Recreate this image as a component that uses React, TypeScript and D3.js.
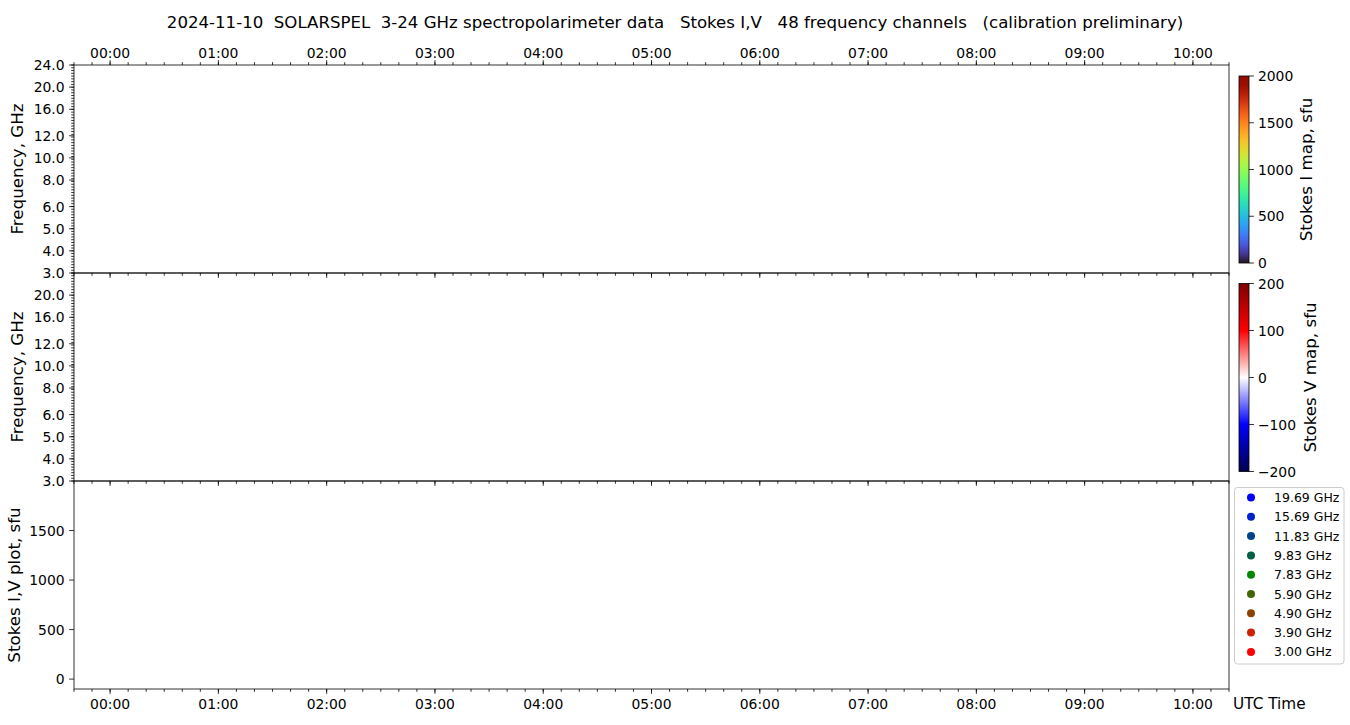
import React from "react";
import * as d3 from "d3";

const titleText =
  "2024-11-10  SOLARSPEL  3-24 GHz spectropolarimeter data   Stokes I,V   48 frequency channels   (calibration preliminary)";
const timeStart = new Date(Date.UTC(2024, 10, 9, 23, 40));
const timeEnd = new Date(Date.UTC(2024, 10, 10, 10, 20));
const freqTickLabels = ["3.0", "4.0", "5.0", "6.0", "8.0", "10.0", "12.0", "16.0", "20.0", "24.0"];
const freqTickChannels = [0, 5, 10, 15, 21, 26, 31, 37, 42, 47];
const freqMinorPerAxis = 75;
const stokesTicks = [0, 500, 1000, 1500];
const stokesDomain = [-100, 2000];
const iBarTicks = [0, 500, 1000, 1500, 2000];
const iBarDomain = [0, 2000];
const vBarTicks = [-200, -100, 0, 100, 200];
const vBarDomain = [-200, 200];
const seismicStops = ["#00004d", "#0000ff", "#ffffff", "#ff0000", "#800000"];
const legendFreqs = ["19.69 GHz", "15.69 GHz", "11.83 GHz", "9.83 GHz", "7.83 GHz", "5.90 GHz", "4.90 GHz", "3.90 GHz", "3.00 GHz"];
const legendColors = ["#0000ff", "#0022cc", "#004488", "#006046", "#008800", "#446600", "#884400", "#cc2200", "#ff0000"];

const W = 1350;
const H = 725;
const FONT = "DejaVu Sans";
const TICK_FS = 13.9;
const LABEL_FS = 16.7;
const plotL = 74;
const plotR = 1229;
const panels = [
  { top: 65, bottom: 273 },
  { top: 273, bottom: 481 },
  { top: 481, bottom: 689 },
];
const MAJ = 4.9;
const MIN = 2.8;

function fmtMinus(v: number) {
  return String(v).replace("-", "\u2212");
}

export default function App() {
  const x = d3.scaleUtc().domain([timeStart, timeEnd]).range([plotL, plotR]);
  const hourTicks = d3.utcHour.every(1)!.range(timeStart, timeEnd);
  const minorTicks = d3.utcMinute.every(10)!.range(timeStart, new Date(+timeEnd + 1));
  const fmt = d3.utcFormat("%H:%M");

  const freqScales = panels.slice(0, 2).map((p) =>
    d3.scaleLinear().domain([0, freqTickChannels[freqTickChannels.length - 1]]).range([p.bottom, p.top])
  );
  const yS = d3.scaleLinear().domain(stokesDomain).range([panels[2].bottom, panels[2].top]);

  const cbX = 1239;
  const cbW = 10;
  const iBar = d3.scaleLinear().domain(iBarDomain).range([263, 76]);
  const vBar = d3.scaleLinear().domain(vBarDomain).range([471.5, 283.5]);
  const turboStops = d3.range(0, 1.0001, 0.05);
  const seisPos = d3.scaleLinear().domain([0, seismicStops.length - 1]).range([0, 1]);

  const legendX = 1234.5;
  const legendY = 487.5;
  const rowH = 19.3;

  const timeAxisTicks = (y: number, dir: number, labels: boolean, key: string) => (
    <g key={key}>
      {minorTicks.map((t, i) => (
        <line key={"m" + i} x1={x(t)} x2={x(t)} y1={y} y2={y + dir * MIN} stroke="#000" strokeWidth={0.8} />
      ))}
      {hourTicks.map((t, i) => (
        <line key={"M" + i} x1={x(t)} x2={x(t)} y1={y} y2={y + dir * MAJ} stroke="#000" strokeWidth={0.8} />
      ))}
      {labels &&
        hourTicks.map((t, i) => (
          <text
            key={"l" + i}
            x={x(t)}
            y={dir < 0 ? y - 7 : y + 20}
            textAnchor="middle"
            fontSize={TICK_FS}
            fontFamily={FONT}
          >
            {fmt(t)}
          </text>
        ))}
    </g>
  );

  return (
    <svg width={W} height={H} style={{ position: "absolute", left: 0, top: 0, background: "#fff" }}>
      <defs>
        <linearGradient id="turbo" x1="0" y1="1" x2="0" y2="0">
          {turboStops.map((t, i) => (
            <stop key={i} offset={t} stopColor={d3.interpolateTurbo(t)} />
          ))}
        </linearGradient>
        <linearGradient id="seismic" x1="0" y1="1" x2="0" y2="0">
          {seismicStops.map((c, i) => (
            <stop key={i} offset={seisPos(i)} stopColor={c} />
          ))}
        </linearGradient>
      </defs>
      <rect x={0} y={0} width={W} height={H} fill="#fff" />
      <text x={675} y={22} textAnchor="middle" dominantBaseline="central" fontSize={16.6} fontFamily={FONT} style={{ whiteSpace: "pre" }}>
        {titleText}
      </text>

      {/* frequency panels */}
      {freqScales.map((fy, pi) => {
        const p = panels[pi];
        const minors = d3.range(0, freqMinorPerAxis + 1).map((k) => (k / freqMinorPerAxis) * fy.domain()[1]);
        return (
          <g key={"fp" + pi}>
            {minors.map((c, i) => (
              <line key={"mn" + i} x1={plotL} x2={plotL - MIN} y1={fy(c)} y2={fy(c)} stroke="#000" strokeWidth={0.8} />
            ))}
            {freqTickChannels.map((c, i) => {
              if (pi === 1 && i === freqTickChannels.length - 1) return null;
              return (
                <g key={"ft" + i}>
                  <line x1={plotL} x2={plotL - MAJ} y1={fy(c)} y2={fy(c)} stroke="#000" strokeWidth={0.8} />
                  <text x={plotL - MAJ - 4.5} y={fy(c)} textAnchor="end" dominantBaseline="central" fontSize={TICK_FS} fontFamily={FONT}>
                    {freqTickLabels[i]}
                  </text>
                </g>
              );
            })}
            <text
              transform={`translate(17,${(p.top + p.bottom) / 2}) rotate(-90)`}
              textAnchor="middle"
              dominantBaseline="central"
              fontSize={LABEL_FS}
              fontFamily={FONT}
            >
              Frequency, GHz
            </text>
          </g>
        );
      })}

      {/* stokes plot panel y axis */}
      {stokesTicks.map((v, i) => (
        <g key={"st" + i}>
          <line x1={plotL} x2={plotL - MAJ} y1={yS(v)} y2={yS(v)} stroke="#000" strokeWidth={0.8} />
          <text x={plotL - MAJ - 4.5} y={yS(v)} textAnchor="end" dominantBaseline="central" fontSize={TICK_FS} fontFamily={FONT}>
            {v}
          </text>
        </g>
      ))}
      <text
        transform={`translate(14,${(panels[2].top + panels[2].bottom) / 2}) rotate(-90)`}
        textAnchor="middle"
        dominantBaseline="central"
        fontSize={LABEL_FS}
        fontFamily={FONT}
      >
        Stokes I,V plot, sfu
      </text>

      {/* time axes */}
      {timeAxisTicks(panels[0].top, -1, true, "t0")}
      {timeAxisTicks(panels[0].bottom, 1, false, "t1")}
      {timeAxisTicks(panels[1].bottom, 1, false, "t2")}
      {timeAxisTicks(panels[2].bottom, 1, true, "t3")}
      <text x={1233} y={709} fontSize={15.3} fontFamily={FONT}>
        UTC Time
      </text>

      {/* panel frames */}
      {panels.map((p, i) => (
        <rect key={"fr" + i} x={plotL} y={p.top} width={plotR - plotL} height={p.bottom - p.top} fill="none" stroke="#000" strokeWidth={0.8} />
      ))}

      {/* colorbar I */}
      <rect x={cbX} y={iBar.range()[1]} width={cbW} height={iBar.range()[0] - iBar.range()[1]} fill="url(#turbo)" stroke="#000" strokeWidth={0.8} />
      {iBarTicks.map((v, i) => (
        <g key={"ib" + i}>
          <line x1={cbX + cbW} x2={cbX + cbW + MAJ} y1={iBar(v)} y2={iBar(v)} stroke="#000" strokeWidth={0.8} />
          <text x={cbX + cbW + MAJ + 4} y={iBar(v)} dominantBaseline="central" fontSize={TICK_FS} fontFamily={FONT}>
            {v}
          </text>
        </g>
      ))}
      <text
        transform={`translate(1306,${(iBar.range()[0] + iBar.range()[1]) / 2}) rotate(-90)`}
        textAnchor="middle"
        dominantBaseline="central"
        fontSize={LABEL_FS}
        fontFamily={FONT}
      >
        Stokes I map, sfu
      </text>

      {/* colorbar V */}
      <rect x={cbX} y={vBar.range()[1]} width={cbW} height={vBar.range()[0] - vBar.range()[1]} fill="url(#seismic)" stroke="#000" strokeWidth={0.8} />
      {vBarTicks.map((v, i) => (
        <g key={"vb" + i}>
          <line x1={cbX + cbW} x2={cbX + cbW + MAJ} y1={vBar(v)} y2={vBar(v)} stroke="#000" strokeWidth={0.8} />
          <text x={cbX + cbW + MAJ + 4} y={vBar(v)} dominantBaseline="central" fontSize={TICK_FS} fontFamily={FONT}>
            {fmtMinus(v)}
          </text>
        </g>
      ))}
      <text
        transform={`translate(1310,${(vBar.range()[0] + vBar.range()[1]) / 2}) rotate(-90)`}
        textAnchor="middle"
        dominantBaseline="central"
        fontSize={LABEL_FS}
        fontFamily={FONT}
      >
        Stokes V map, sfu
      </text>

      {/* legend */}
      <rect x={legendX} y={legendY} width={109.5} height={176.5} rx={3} fill="#fff" fillOpacity={0.8} stroke="#cccccc" strokeWidth={1} />
      {legendFreqs.map((f, i) => (
        <g key={"lg" + i}>
          <circle cx={1251} cy={legendY + 10 + i * rowH} r={4} fill={legendColors[i]} />
          <text x={1274} y={legendY + 10 + i * rowH} dominantBaseline="central" fontSize={12.5} fontFamily={FONT}>
            {f}
          </text>
        </g>
      ))}
    </svg>
  );
}
